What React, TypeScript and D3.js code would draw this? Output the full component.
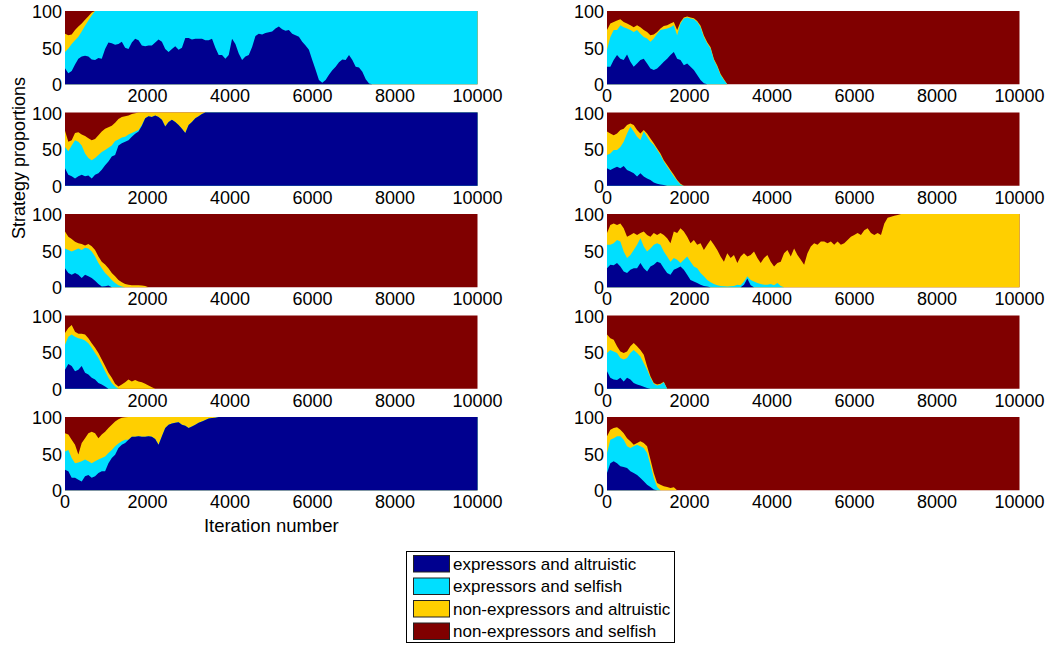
import React from "react";
import * as d3 from "d3";

// Ten simulation runs of the four-strategy population, each one a stacked area
// of strategy proportions (%) against iteration number.

const MAX_ITER = 10000;
const SAMPLE_STEP = 81; // iterations between stored readings

const STRATEGY_NAMES = [
  "expressors and altruistic",
  "expressors and selfish",
  "non-expressors and altruistic",
  "non-expressors and selfish",
];
const STRATEGY_COLORS = ["#00008F", "#00DFFF", "#FFCF00", "#800000"];

const Y_TICKS = [0, 50, 100];
const X_TICKS = [0, 2000, 4000, 6000, 8000, 10000];

// Cumulative upper edges (%), one reading every SAMPLE_STEP iterations.
// EA = expressors/altruistic, ES = + expressors/selfish, NA = + non-expressors/altruistic.
// The last reading of each list holds until iteration 10000.

// left column, run 1
const L1_EA = [22, 15, 18, 27, 35, 38, 39, 38, 34, 33, 36, 35, 48, 57, 56, 54, 55, 58, 50, 48, 57, 62, 60, 53, 52, 53, 53, 57, 61, 58, 48, 44, 48, 52, 47, 50, 63, 63, 61, 62, 62, 62, 60, 60, 62, 50, 40, 40, 35, 40, 62, 55, 42, 33, 38, 40, 51, 66, 69, 68, 70, 71, 72, 76, 79, 75, 73, 74, 69, 67, 65, 58, 53, 47, 33, 20, 6, 2, 6, 13, 19, 24, 30, 34, 33, 40, 33, 24, 23, 17, 7, 1, 0];
const L1_ES = [44, 49, 55, 60, 65, 72, 80, 87, 94, 100];
const L1_NA = [69, 67, 68, 74, 79, 83, 88, 93, 98, 100];

// left column, run 2
const L2_EA = [24, 15, 13, 10, 13, 15, 13, 14, 10, 15, 17, 22, 28, 33, 40, 42, 55, 58, 60, 62, 67, 71, 74, 82, 92, 95, 94, 96, 94, 90, 81, 87, 90, 87, 83, 78, 72, 83, 87, 92, 95, 98, 100];
const L2_ES = [53, 47, 55, 62, 60, 55, 44, 38, 35, 38, 42, 46, 49, 52, 55, 61, 63, 66, 67, 70, 72, 74, 76, 83, 0];
const L2_NA = [75, 60, 62, 72, 73, 70, 68, 65, 62, 64, 69, 74, 78, 80, 82, 86, 91, 94, 95, 96, 98, 99, 100];

// left column, run 3
const L3_EA = [26, 19.5, 17, 19.5, 17, 12.7, 17, 15, 12.7, 9, 4.5, 1, 1.4, 2.3, 0];
const L3_ES = [53, 51, 49, 51, 53, 51, 54, 53, 49, 42, 33, 26, 19.5, 15, 10, 6, 2.7, 1, 0];
const L3_NA = [76, 69, 66, 62, 60, 59, 57, 59, 56, 51, 42, 35, 31, 26, 19.5, 15, 10, 7, 4.5, 3.6, 2.7, 2.7, 2.7, 2.3, 1.8, 0];

// left column, run 4
const L4_EA = [26, 34, 31, 24, 26, 31, 22, 19.5, 15, 12.7, 8, 6, 3, 0];
const L4_ES = [60, 71, 74, 71, 69, 68, 66, 62, 56, 49, 42, 33, 24, 15, 8, 3, 0];
const L4_NA = [76, 83, 87, 78, 75, 75, 74, 69, 62, 56, 49, 40, 31, 22, 15, 7, 3, 6, 9, 12.7, 10, 12, 10, 9, 7, 4.5, 2, 0];

// left column, run 5
const L5_EA = [28, 26, 17, 17, 14.5, 12, 19, 21, 17, 19, 23.6, 26, 26, 37, 44, 48.6, 57.7, 62, 64.5, 69, 73, 73, 73.6, 73, 73, 73.6, 73, 70, 62, 73.6, 85, 89.5, 91, 92, 93, 89.5, 88, 85, 87, 89.5, 92, 94, 96, 98, 98.6, 99, 100];
const L5_ES = [53, 55, 44, 37, 38, 39.5, 42, 39.5, 37, 39.5, 42, 44, 46, 51, 55, 60, 64, 67, 69, 69, 0];
const L5_NA = [78, 76, 69, 62, 49, 64.5, 71, 78, 80, 78, 71, 76, 80, 85, 89.5, 94, 97, 99, 99.5, 100];

// right column, run 1
const R1_EA = [24, 24, 33, 40, 35, 33, 40.7, 30.8, 24, 28.5, 33, 35, 28.5, 21.7, 19.5, 21.7, 26, 30.8, 35, 40, 44, 35, 33, 26, 28.5, 24, 19.5, 12.7, 6, 1.4, 0];
const R1_ES = [47, 64.7, 74, 74, 80.5, 78, 76, 74, 71.5, 74, 69, 64.7, 62.4, 58, 62.4, 69, 74, 75, 76, 78, 80.5, 67, 83, 89.6, 91, 89.6, 88.7, 85, 78, 64.7, 55.7, 49, 33, 24, 12.7, 6, 0];
const R1_NA = [74, 83, 85, 87, 88.7, 85, 83, 80.5, 78, 80.5, 78, 74, 71.5, 67, 68, 71.5, 76, 79.6, 80.5, 83, 85, 74, 85, 91, 92.5, 91, 90, 86.5, 80, 66.5, 57.5, 50.5, 34.5, 25.5, 14, 7, 0];

// right column, run 2
const R2_EA = [24, 21.7, 24, 26, 24, 27, 21.7, 19.5, 17, 12.7, 17, 12.7, 10, 8, 4.5, 2.7, 1.8, 1, 0];
const R2_ES = [42, 44, 49, 49, 53, 60, 71.5, 80.5, 74, 67, 62.4, 74, 67, 60, 55.7, 49, 42, 33, 26, 19.5, 12.7, 7, 1.8, 0];
const R2_NA = [74, 71.5, 69, 71.5, 76, 78, 83, 85, 83, 76, 71.5, 76, 71.5, 64.7, 58, 51, 44, 35, 28.5, 21.7, 15, 8, 2.7, 0];

// right column, run 3
const R3_EA = [26, 30.8, 30, 33, 28.5, 21.7, 19.5, 24, 26, 26, 33, 26, 21.7, 28.5, 30.8, 35, 33, 26, 19.5, 17, 24, 26, 28.5, 24, 17, 10, 8, 6, 3.6, 1.8, 1, 0, 0, 0, 0, 0, 0, 0, 0, 0, 0, 3.6, 12, 2.7, 0];
const R3_ES = [58, 58, 60, 64.7, 62.4, 49, 40, 44, 51, 58, 67, 55.7, 49, 53, 58, 60, 58, 49, 42, 35, 40, 37.6, 33, 37.6, 42, 35, 28.5, 26, 19.5, 15, 10, 7, 4.5, 2.7, 1.8, 1.4, 1, 1.4, 1.8, 3.6, 2.7, 8, 15, 10, 8, 6, 4.5, 3.6, 3.6, 4.5, 2.7, 6, 1.8, 0];
const R3_NA = [74, 85, 87, 85, 87, 80.5, 69, 71.5, 74, 71.5, 74, 76, 71.5, 69, 74, 71.5, 74, 71.5, 67, 60, 76, 74, 80.5, 76, 69, 60, 64.7, 58, 60, 51, 58, 64.7, 58, 51, 42, 35, 46.6, 40, 44, 33, 42, 46.6, 42, 44, 49, 40, 33, 40, 44, 35, 28.5, 33, 35, 46.6, 51, 42, 53, 44, 37.6, 30.8, 46.6, 55.7, 60, 58, 62.4, 62.4, 60, 62.4, 58, 62.4, 58, 60, 64.7, 69, 71.5, 74, 71.5, 78, 80.5, 74, 71.5, 74, 71.5, 87, 95, 96.4, 97.7, 98.6, 100];

// right column, run 4
const R4_EA = [24, 15, 12.7, 12, 15, 10, 15, 12.7, 8, 6, 4.5, 2.7, 1, 0];
const R4_ES = [49, 53, 51, 49, 42, 40, 42, 49, 53, 49, 44, 35, 26, 15, 7, 4.5, 6, 9, 0];
const R4_NA = [74, 69, 67, 58, 51, 49, 51, 58, 62.4, 58, 53, 46.6, 30.8, 17, 8, 6, 7, 9.5, 0];

// right column, run 5
const R5_EA = [23.6, 37, 39.5, 37, 32.7, 31.8, 30.5, 26, 23.6, 21, 16.8, 12.3, 7.7, 4.5, 1, 0];
const R5_ES = [51, 69, 71, 73.6, 73.6, 69, 60, 57.7, 60, 62, 60, 57.7, 51, 35, 16.8, 4.5, 0];
const R5_NA = [73.6, 82.7, 85, 86, 82.7, 78, 71, 66.8, 62, 64.5, 66.8, 64.5, 60, 42, 23.6, 10, 7.7, 5.5, 4.5, 3.2, 4, 0];

const LEFT_RUNS = [
  [L1_EA, L1_ES, L1_NA],
  [L2_EA, L2_ES, L2_NA],
  [L3_EA, L3_ES, L3_NA],
  [L4_EA, L4_ES, L4_NA],
  [L5_EA, L5_ES, L5_NA],
];
const RIGHT_RUNS = [
  [R1_EA, R1_ES, R1_NA],
  [R2_EA, R2_ES, R2_NA],
  [R3_EA, R3_ES, R3_NA],
  [R4_EA, R4_ES, R4_NA],
  [R5_EA, R5_ES, R5_NA],
];

// layout
const WIDTH = 1046;
const HEIGHT = 645;
const COLUMN_X = [65, 607];
const PANEL_W = 412.5;
const PANEL_H = 73.3;
const FIRST_TOP = 11;
const ROW_PITCH = 101.5;
const FONT = "'Liberation Sans', Arial, Helvetica, sans-serif";

type Row = { it: number; tops: number[] };

function stackRows(edges: number[][]): Row[] {
  const n = Math.ceil(MAX_ITER / SAMPLE_STEP);
  const rows: Row[] = [];
  for (let j = 0; j <= n; j++) {
    const at = (a: number[]) => a[Math.min(j, a.length - 1)];
    const b1 = at(edges[0]);
    const b2 = Math.max(b1, at(edges[1]));
    const b3 = Math.max(b2, at(edges[2]));
    rows.push({ it: Math.min(j * SAMPLE_STEP, MAX_ITER), tops: [b1, b2, b3, 100] });
  }
  return rows;
}

function Panel({ edges, x0, y0, showZero }: { edges: number[][]; x0: number; y0: number; showZero: boolean }) {
  const x = d3.scaleLinear().domain([0, MAX_ITER]).range([x0, x0 + PANEL_W]);
  const y = d3.scaleLinear().domain([0, 100]).range([y0 + PANEL_H, y0]);
  const rows = stackRows(edges);
  // each layer is filled from zero up to its cumulative edge, painted top layer first
  const layers = [3, 2, 1, 0].map((k) => {
    const area = d3
      .area<Row>()
      .x((d) => x(d.it))
      .y0(() => y(0))
      .y1((d) => y(d.tops[k]));
    return <path key={k} d={area(rows) ?? ""} fill={STRATEGY_COLORS[k]} stroke="none" />;
  });
  const xticks = X_TICKS.filter((t) => showZero || t !== 0);
  return (
    <g>
      {layers}
      {Y_TICKS.map((t) => (
        <text
          key={"y" + t}
          x={x0 - 3}
          y={y(t) + 1}
          textAnchor="end"
          dominantBaseline="central"
          fontSize={18}
          fontFamily={FONT}
          fill="#000"
        >
          {t}
        </text>
      ))}
      {xticks.map((t) => (
        <text
          key={"x" + t}
          x={x(t)}
          y={y0 + PANEL_H + 18}
          textAnchor="middle"
          fontSize={18}
          fontFamily={FONT}
          fill="#000"
        >
          {t}
        </text>
      ))}
    </g>
  );
}

function Legend() {
  const lx = 406;
  const ly = 551;
  const w = 268;
  const h = 91;
  const rowH = 22.5;
  return (
    <g>
      <rect x={lx + 0.5} y={ly + 0.5} width={w} height={h} fill="#fff" stroke="#000" strokeWidth={1} />
      {STRATEGY_NAMES.map((name, i) => (
        <g key={name}>
          <rect
            x={lx + 7.5}
            y={ly + 4.5 + i * rowH}
            width={36}
            height={16.5}
            fill={STRATEGY_COLORS[i]}
            stroke="#222"
            strokeWidth={1}
          />
          <text
            x={lx + 47}
            y={ly + 13 + i * rowH}
            dominantBaseline="central"
            fontSize={17}
            fontFamily={FONT}
            fill="#000"
          >
            {name}
          </text>
        </g>
      ))}
    </g>
  );
}

export default function App() {
  const bottomTop = FIRST_TOP + 4 * ROW_PITCH;
  return (
    <svg
      width={WIDTH}
      height={HEIGHT}
      style={{ position: "absolute", left: 0, top: 0, background: "#fff" }}
    >
      {LEFT_RUNS.map((edges, r) => (
        <Panel key={"l" + r} edges={edges} x0={COLUMN_X[0]} y0={FIRST_TOP + r * ROW_PITCH} showZero={r === 4} />
      ))}
      {RIGHT_RUNS.map((edges, r) => (
        <Panel key={"r" + r} edges={edges} x0={COLUMN_X[1]} y0={FIRST_TOP + r * ROW_PITCH} showZero={true} />
      ))}
      <text
        x={COLUMN_X[0] + PANEL_W / 2}
        y={bottomTop + PANEL_H + 42}
        textAnchor="middle"
        fontSize={18.5}
        fontFamily={FONT}
        fill="#000"
      >
        Iteration number
      </text>
      <text
        transform={`translate(25, 158) rotate(-90)`}
        textAnchor="middle"
        fontSize={18}
        fontFamily={FONT}
        fill="#000"
      >
        Strategy proportions
      </text>
      <Legend />
    </svg>
  );
}
